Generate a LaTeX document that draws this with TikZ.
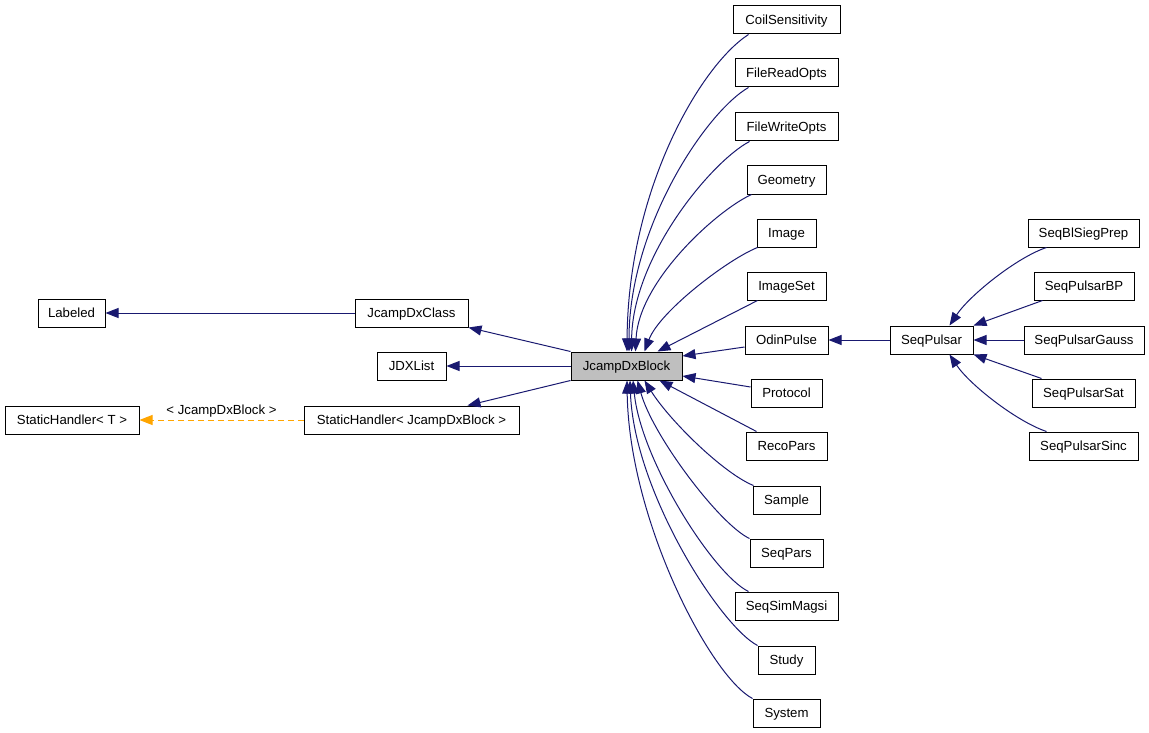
\documentclass[tikz,border=0pt]{standalone}
\usepackage{fontspec}
\setmainfont{Liberation Sans}
\usetikzlibrary{arrows.meta}
\definecolor{edgeblue}{HTML}{191970}
\definecolor{dxorange}{HTML}{FFA500}
\definecolor{boxgray}{HTML}{BFBFBF}
\begin{document}
\begin{tikzpicture}[x=1pt,y=-1pt,
  cls/.style={draw=black,line width=1pt,minimum height=28pt,inner sep=0pt,
    text height=12pt,text depth=2.5pt,
    font=\fontsize{13.2}{15}\selectfont,anchor=center},
  edge/.style={draw=edgeblue,line width=1pt,-{Triangle[length=13pt,width=10pt]}},
  tmpl/.style={draw=dxorange,line width=1pt,dash pattern=on 6pt off 4pt,
    -{Triangle[length=13pt,width=10pt,fill=dxorange]}},
  lbl/.style={font=\fontsize{13.2}{15}\selectfont,inner sep=1pt}]
\useasboundingbox (0,0) rectangle (1149,733);
\fill[white] (0,0) rectangle (1149,733);

% left column
\node[cls,minimum width=67pt] (labeled) at (71.5,313) {Labeled};
\node[cls,minimum width=134pt] (sht) at (72,420) {StaticHandler< T >};
\node[cls,minimum width=113pt] (jclass) at (411.5,313) {JcampDxClass};
\node[cls,minimum width=69pt] (jdxlist) at (411.5,366) {JDXList};
\node[cls,minimum width=215pt] (shj) at (411.5,420) {StaticHandler< JcampDxBlock >};

% central
\node[cls,minimum width=111pt,fill=boxgray] (jblock) at (626.5,366) {JcampDxBlock};

% children column
\node[cls,minimum width=107pt] (coil) at (786.5,20) {CoilSensitivity};
\node[cls,minimum width=103pt] (fro) at (786.5,73) {FileReadOpts};
\node[cls,minimum width=103pt] (fwo) at (786.5,127) {FileWriteOpts};
\node[cls,minimum width=79pt] (geo) at (786.5,180) {Geometry};
\node[cls,minimum width=59pt] (img) at (786.5,233) {Image};
\node[cls,minimum width=79pt] (imgset) at (786.5,286) {ImageSet};
\node[cls,minimum width=83pt] (odin) at (786.5,340) {OdinPulse};
\node[cls,minimum width=71pt] (proto) at (786.5,393) {Protocol};
\node[cls,minimum width=81pt] (reco) at (786.5,446) {RecoPars};
\node[cls,minimum width=67pt] (sample) at (786.5,500) {Sample};
\node[cls,minimum width=73pt] (seqpars) at (786.5,553) {SeqPars};
\node[cls,minimum width=103pt] (simmag) at (786.5,606) {SeqSimMagsi};
\node[cls,minimum width=57pt] (study) at (786.5,660) {Study};
\node[cls,minimum width=67pt] (system) at (786.5,713) {System};

% pulsar group
\node[cls,minimum width=83pt] (pulsar) at (931.5,340) {SeqPulsar};
\node[cls,minimum width=111pt] (bls) at (1083.5,233) {SeqBlSiegPrep};
\node[cls,minimum width=100pt] (pbp) at (1084,286) {SeqPulsarBP};
\node[cls,minimum width=120pt] (pgauss) at (1084,340) {SeqPulsarGauss};
\node[cls,minimum width=103pt] (psat) at (1083.5,393) {SeqPulsarSat};
\node[cls,minimum width=109pt] (psinc) at (1083.5,446) {SeqPulsarSinc};

% left edges
\draw[edge] (jclass.west) -- (labeled.east);
\draw[edge] (jblock.north west) -- (jclass.south east);
\draw[edge] (jblock.west) -- (jdxlist.east);
\draw[edge] (jblock.south west) -- ([xshift=56pt]shj.north);
\draw[tmpl] (shj.west) -- node[lbl,above=1pt] {< JcampDxBlock >} (sht.east);

% upper fan
\draw[edge] ([xshift=16pt]coil.south west) .. controls +(-48,31) and +(1,-162) .. ([xshift=0.5pt]jblock.north);
\draw[edge] ([xshift=14pt]fro.south west) .. controls +(-42,24) and +(0,-125) .. ([xshift=2.5pt]jblock.north);
\draw[edge] ([xshift=15pt]fwo.south west) .. controls +(-38,20) and +(1,-95) .. ([xshift=5pt]jblock.north);
\draw[edge] ([xshift=5pt]geo.south west) .. controls +(-35,16) and +(3,-70) .. ([xshift=9pt]jblock.north);
\draw[edge] ([xshift=1pt]img.south west) .. controls +(-30,12) and +(15,-40) .. ([xshift=18pt]jblock.north);
\draw[edge] ([xshift=11pt]imgset.south west) -- ([xshift=31pt]jblock.north);
\draw[edge] ([yshift=-7pt]odin.west) -- ([yshift=10pt]jblock.east);

% lower fan
\draw[edge] ([yshift=6pt]proto.west) -- ([yshift=-10pt]jblock.east);
\draw[edge] ([xshift=11pt]reco.north west) -- ([xshift=33pt]jblock.south);
\draw[edge] ([xshift=1pt]sample.north west) .. controls +(-30,-12) and +(25,40) .. ([xshift=18pt]jblock.south);
\draw[edge] (seqpars.north west) .. controls +(-30,-14) and +(15,55) .. ([xshift=11pt]jblock.south);
\draw[edge] ([xshift=14pt]simmag.north west) .. controls +(-35,-17) and +(8,80) .. ([xshift=6.5pt]jblock.south);
\draw[edge] (study.north west) .. controls +(-38,-20) and +(4,110) .. ([xshift=3.5pt]jblock.south);
\draw[edge] (system.north west) .. controls +(-42,-22) and +(2,140) .. ([xshift=0.5pt]jblock.south);

% pulsar edges
\draw[edge] (pulsar.west) -- (odin.east);
\draw[edge] ([xshift=19pt]bls.south west) .. controls +(-30,10) and +(20,-30) .. ([xshift=18pt]pulsar.north);
\draw[edge] ([xshift=9pt]pbp.south west) -- (pulsar.north east);
\draw[edge] (pgauss.west) -- (pulsar.east);
\draw[edge] ([xshift=10pt]psat.north west) -- (pulsar.south east);
\draw[edge] ([xshift=18pt]psinc.north west) .. controls +(-30,-10) and +(20,30) .. ([xshift=18pt]pulsar.south);
\end{tikzpicture}
\end{document}
